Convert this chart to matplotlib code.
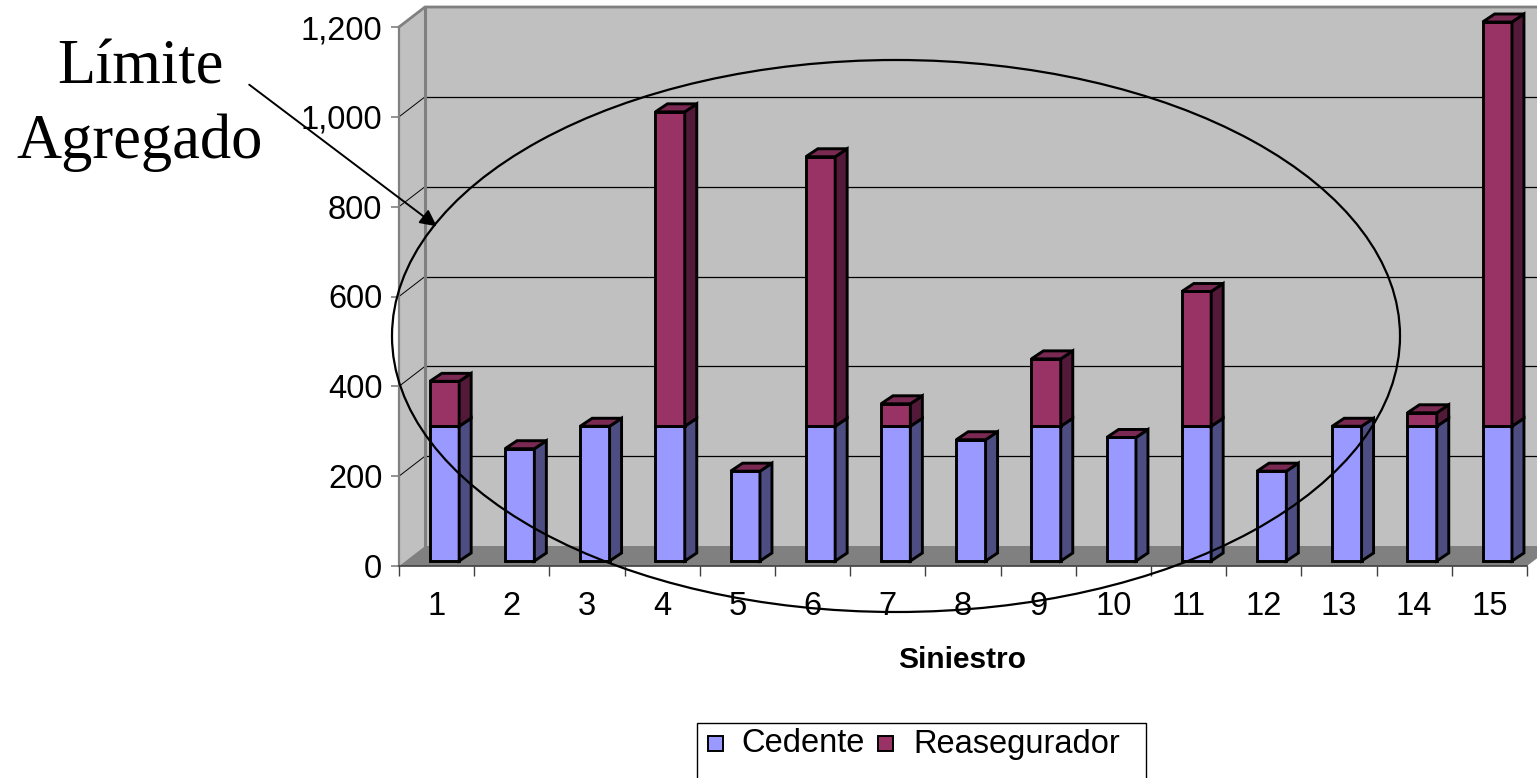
import matplotlib
matplotlib.use("Agg")
import matplotlib.pyplot as plt
from matplotlib.patches import Polygon, Ellipse, Rectangle, FancyArrowPatch
from matplotlib.ticker import FuncFormatter, FixedLocator, NullFormatter

# ---- data ----
categories = [str(i) for i in range(1, 16)]
cedente = [300, 250, 300, 300, 200, 300, 300, 270, 300, 275, 300, 200, 300, 300, 300]
reasegurador = [100, 0, 0, 700, 0, 600, 50, 0, 150, 0, 300, 0, 0, 30, 900]
series_names = ["Cedente", "Reasegurador"]
y_ticks = [0, 200, 400, 600, 800, 1000, 1200]
x_title = "Siniestro"
annot_lines = ["Límite", "Agregado"]

# ---- style ----
W, H = 1537, 778
SANS = "Liberation Sans"
SERIF = "Liberation Serif"
blue_front, blue_side = "#9999FF", "#4D4D82"
mar_front, mar_side, mar_top = "#993366", "#521A38", "#7A2952"
wall = "#C0C0C0"
floor_c = "#808080"
FS = 23.5

fig = plt.figure(figsize=(W / 100, H / 100), dpi=100)
fig.patch.set_facecolor("white")

ax_l, ax_r, ax_b, ax_t = 399, 1527, 566, 27
ax = fig.add_axes([ax_l / W, (H - ax_b) / H, (ax_r - ax_l) / W, (ax_b - ax_t) / H])
ax.set_xlim(0, len(categories))
ax.set_ylim(0, 1200)
ax.patch.set_visible(False)

px_x = (ax_r - ax_l) / len(categories)
px_y = (ax_b - ax_t) / 1200.0
DX = 26 / px_x
DY = 20 / px_y
n = len(categories)

def poly(pts, fc, ec="none", lw=0, z=1):
    ax.add_patch(Polygon(pts, closed=True, facecolor=fc, edgecolor=ec, lw=lw,
                         zorder=z, clip_on=False, joinstyle="miter"))

# walls
poly([(0, 0), (0, 1200), (DX, 1200 + DY), (DX, DY)], wall, z=0.1)
poly([(DX, DY), (DX, 1200 + DY), (n + 2, 1200 + DY), (n + 2, DY)], wall, z=0.1)
poly([(0, 0), (n, 0), (n + DX, DY), (DX, DY)], floor_c, z=0.3)
# wall edges
ax.plot([DX, DX], [DY, 1200 + DY], color="#808080", lw=2.2, zorder=0.4, clip_on=False)
ax.plot([0, DX, n + 2], [1200, 1200 + DY, 1200 + DY], color="#808080", lw=2.0,
        zorder=0.4, clip_on=False)
# gridlines
for v in y_ticks[1:-1]:
    ax.plot([DX, n + 2], [v + DY, v + DY], color="black", lw=0.9, zorder=0.2, clip_on=False)
    ax.plot([0, DX], [v, v + DY], color="black", lw=0.7, zorder=0.2, clip_on=False)

# bars
BW = 0.39
OFF = 0.105
BDX, BDY = 12 / px_x, 8 / px_y
B0 = 5 / px_y
EC, ELW = "black", 2.1
for i in range(n):
    x0 = i + 0.5 - BW / 2 + OFF
    x1 = x0 + BW
    segs = [(cedente[i], blue_front, blue_side), (reasegurador[i], mar_front, mar_side)]
    base = B0
    for val, fc, sc in segs:
        top = base + val
        if val > 0:
            poly([(x0, base), (x1, base), (x1, top), (x0, top)], fc, EC, ELW, z=3)
            poly([(x1, base), (x1 + BDX, base + BDY), (x1 + BDX, top + BDY), (x1, top)],
                 sc, EC, ELW, z=3)
        base = top
    poly([(x0, base), (x1, base), (x1 + BDX, base + BDY), (x0 + BDX, base + BDY)],
         mar_top, EC, ELW, z=3)

# axes styling
for s in ["top", "right"]:
    ax.spines[s].set_visible(False)
ax.spines["left"].set_color("#808080")
ax.spines["left"].set_linewidth(1.6)
ax.spines["bottom"].set_color("#404040")
ax.spines["bottom"].set_linewidth(1.2)
ax.set_yticks(y_ticks)
ax.yaxis.set_major_formatter(FuncFormatter(lambda v, p: f"{int(v):,}"))
ax.tick_params(axis="y", direction="out", length=6, width=1.2, color="#808080",
               labelsize=FS, pad=6)
ax.xaxis.set_major_locator(FixedLocator(list(range(n + 1))))
ax.xaxis.set_major_formatter(NullFormatter())
ax.xaxis.set_minor_locator(FixedLocator([i + 0.5 for i in range(n)]))
ax.set_xticklabels(categories, minor=True)
ax.tick_params(axis="x", which="major", direction="out", length=7.5, width=1.0, color="#404040")
ax.tick_params(axis="x", which="minor", length=0, labelsize=FS, pad=18)
for lab in ax.get_xticklabels(minor=True) + ax.get_yticklabels():
    lab.set_fontfamily(SANS)

fig.text(962 / W, 1 - 660 / H, x_title, ha="center", va="center", fontsize=21.5,
         fontweight="bold", family=SANS)

# ellipse annotation
fig.patches.append(Ellipse((896 / W, 1 - 336 / H), 1008 / W, 552 / H, transform=fig.transFigure,
                           fill=False, edgecolor="black", lw=1.6, zorder=10))
# annotation text + arrow
fig.text(140 / W, 1 - 83 / H, annot_lines[0], ha="center", va="baseline", fontsize=45, family=SERIF)
fig.text(140 / W, 1 - 158 / H, annot_lines[1], ha="center", va="baseline", fontsize=45, family=SERIF)
fig.add_artist(FancyArrowPatch(
    (247 / W, 1 - 83 / H), (439 / W, 1 - 228 / H), transform=fig.transFigure,
    arrowstyle="-|>", mutation_scale=25, lw=1.4, color="black", zorder=11))

# legend
fig.patches.append(Rectangle((697 / W, -0.05), (1146 - 697) / W, 0.05 + (H - 723) / H,
                             transform=fig.transFigure, fill=True, facecolor="white",
                             edgecolor="black", lw=1.0))
sq = 15
for xs, xt, name, col in [(708, 741, series_names[0], blue_front), (878, 913, series_names[1], mar_front)]:
    fig.patches.append(Rectangle((xs / W, 1 - 751 / H), sq / W, sq / H, transform=fig.transFigure,
                                 facecolor=col, edgecolor="black", lw=1.4))
    fig.text(xt / W, 1 - 744 / H, name, ha="left", va="center", fontsize=FS, family=SANS)

fig.savefig("out.png", dpi=100)
